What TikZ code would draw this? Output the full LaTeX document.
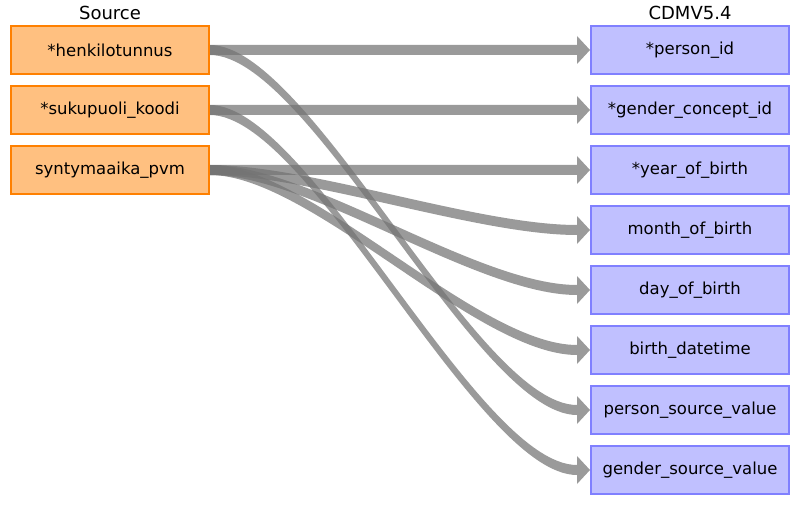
\documentclass[tikz,border=0pt]{standalone}
\usepackage{fontspec}
\setmainfont{DejaVu Sans}
\usetikzlibrary{positioning}
\definecolor{srcfill}{RGB}{255, 192, 128}
\definecolor{srcline}{RGB}{255, 128, 0}
\definecolor{cdmfill}{RGB}{192, 192, 255}
\definecolor{cdmline}{RGB}{128, 128, 255}
\definecolor{maparrow}{RGB}{115, 115, 115}

% band of constant height from one field to another, with its head
\newcommand{\fieldmap}[2]{%
  \fill[map] ([yshift=5pt]#1.east)
    .. controls +(100pt,0) and +(-100pt,0) .. ([xshift=-13pt, yshift=5pt]#2.west)
    -- ([xshift=-13pt, yshift=14pt]#2.west) -- (#2.west)
    -- ([xshift=-13pt, yshift=-14pt]#2.west) -- ([xshift=-13pt, yshift=-5pt]#2.west)
    .. controls +(-100pt,0) and +(100pt,0) .. ([yshift=-5pt]#1.east) -- cycle;}

\begin{document}
\begin{tikzpicture}[
    x=1pt, y=1pt,
    node distance=10pt,
    field/.style={rectangle, draw=#1line, fill=#1fill, line width=2pt,
                  minimum width=198pt, minimum height=48pt, inner sep=0pt,
                  font=\fontsize{16.5}{19}\selectfont},
    field/.default=src,
    head/.style={font=\fontsize{18}{21}\selectfont, inner sep=0pt},
    map/.style={fill=maparrow, fill opacity=0.72}
]
\useasboundingbox (0,0) rectangle (800,-505);

% Source fields
\node[field=src] (s1) at (110,-50) {*henkilotunnus};
\node[field=src, below=of s1] (s2) {*sukupuoli\_koodi};
\node[field=src, below=of s2] (s3) {syntymaaika\_pvm};

% CDM fields
\node[field=cdm] (t1) at (690,-50) {*person\_id};
\node[field=cdm, below=of t1] (t2) {*gender\_concept\_id};
\node[field=cdm, below=of t2] (t3) {*year\_of\_birth};
\node[field=cdm, below=of t3] (t4) {month\_of\_birth};
\node[field=cdm, below=of t4] (t5) {day\_of\_birth};
\node[field=cdm, below=of t5] (t6) {birth\_datetime};
\node[field=cdm, below=of t6] (t7) {person\_source\_value};
\node[field=cdm, below=of t7] (t8) {gender\_source\_value};

% Headers
\node[head, above=5pt of s1] (srchead) {Source};
\node[head, above=5pt of t1] (cdmhead) {CDMV5.4};

% Mappings
\fieldmap{s1}{t1}
\fieldmap{s1}{t7}
\fieldmap{s2}{t2}
\fieldmap{s2}{t8}
\fieldmap{s3}{t3}
\fieldmap{s3}{t4}
\fieldmap{s3}{t5}
\fieldmap{s3}{t6}
\end{tikzpicture}
\end{document}
